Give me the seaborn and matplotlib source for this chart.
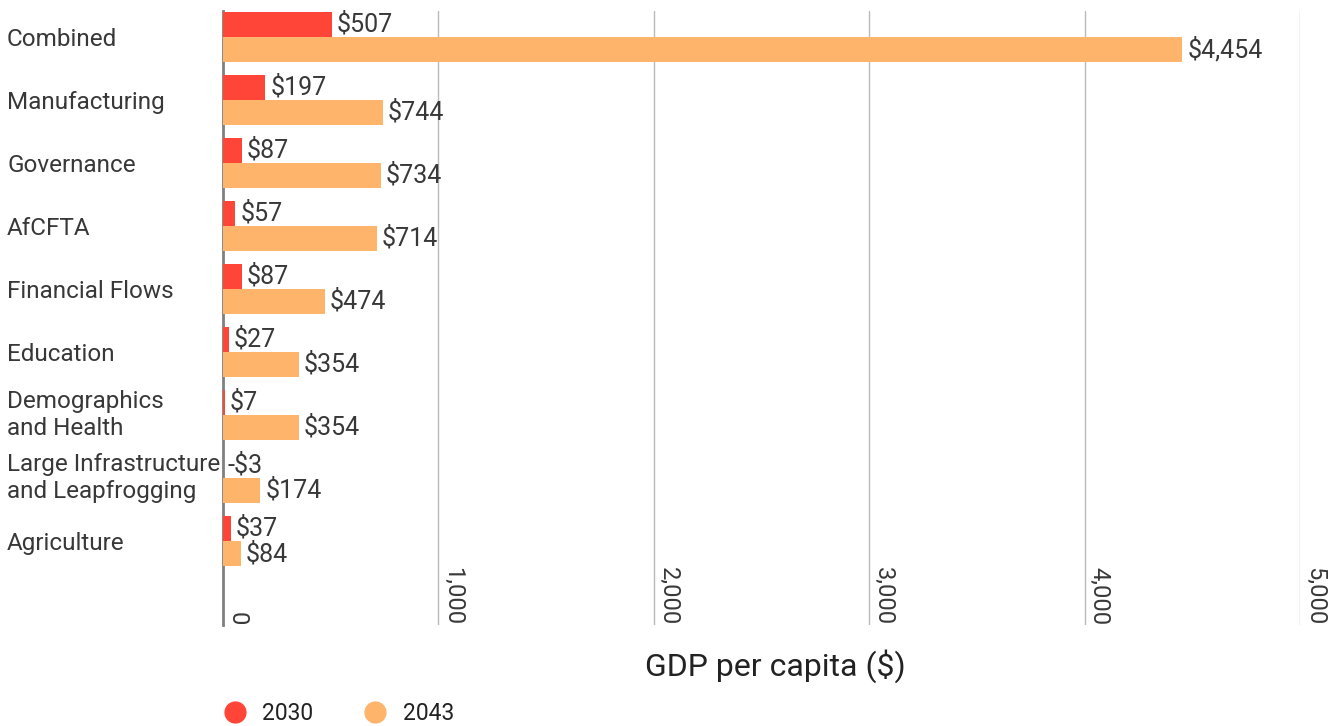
import matplotlib
matplotlib.use("Agg")
import matplotlib.pyplot as plt
from matplotlib.lines import Line2D
import seaborn as sns
import pandas as pd

categories = ["Combined", "Manufacturing", "Governance", "AfCFTA", "Financial Flows",
              "Education", "Demographics\nand Health",
              "Large Infrastructure\nand Leapfrogging", "Agriculture"]
values_2030 = [507, 197, 87, 57, 87, 27, 7, -3, 37]
values_2043 = [4454, 744, 734, 714, 474, 354, 354, 174, 84]
years = ["2030", "2043"]
x_ticks = [0, 1000, 2000, 3000, 4000, 5000]

colors = {"2030": "#FF4538", "2043": "#FFB46B"}
text_color = "#383838"

sns.set_theme(style="white")
plt.rcParams["font.family"] = ["Roboto", "DejaVu Sans"]

df = pd.DataFrame({
    "category": categories * 2,
    "value": values_2030 + values_2043,
    "year": [years[0]] * len(categories) + [years[1]] * len(categories),
})

fig = plt.figure(figsize=(13.38, 7.26), dpi=100)
ax = fig.add_axes([223 / 1338, 1 - 625 / 726, (1300 - 223) / 1338, (625 - 11) / 726])

sns.barplot(data=df, x="value", y="category", hue="year", orient="h",
            palette=colors, width=0.8, dodge=True, saturation=1,
            order=categories, hue_order=years, ax=ax, legend=False,
            linewidth=0, zorder=3)

ax.set_xlim(0, 5000)
ax.set_ylim(9.33, -0.41)

# vertical gridlines
for t in x_ticks[1:]:
    ax.axvline(t, color="#BBBBBB", lw=1, zorder=0)

for s in ["top", "right", "bottom"]:
    ax.spines[s].set_visible(False)
ax.spines["left"].set_color("#808080")
ax.spines["left"].set_linewidth(2)
ax.spines["left"].set_zorder(1)

ax.set_xticks([])
ax.set_xlabel("")
ax.set_ylabel("")
ax.set_yticks(range(len(categories)))
ax.set_yticklabels(categories, ha="left", fontsize=17.5,
                   color=text_color, linespacing=1.2)
for lab in ax.get_yticklabels():
    lab.set_verticalalignment("center" if "\n" in lab.get_text() else "center_baseline")
ax.tick_params(axis="y", length=0, pad=216 * 0.72)

# x tick labels drawn inside the plot, rotated
for t in x_ticks:
    ax.annotate(f"{t:,}", xy=(t, 9.33), xytext=(2, 0), textcoords="offset points",
                rotation=-90, ha="left", va="bottom", fontsize=17, color=text_color)

# value labels
for i in range(len(categories)):
    for v, dy in ((values_2030[i], -0.2), (values_2043[i], 0.2)):
        lbl = f"-${abs(v):,}" if v < 0 else f"${v:,}"
        ax.annotate(lbl, xy=(max(v, 0), i + dy), xytext=(3.5, 0), textcoords="offset points",
                    ha="left", va="center", fontsize=18, color=text_color)

fig.text(775 / 1338, 1 - 666 / 726, "GDP per capita ($)",
         ha="center", va="center", fontsize=23, color="#222222")

handles = [Line2D([0], [0], marker="o", linestyle="", markersize=15,
                  markerfacecolor=colors[y], markeredgecolor=colors[y]) for y in years]
fig.legend(handles, years, loc="center left", bbox_to_anchor=(212 / 1338, 1 - 714 / 726),
           ncol=2, frameon=False, fontsize=16.5, handletextpad=0.2, columnspacing=1.7,
           labelcolor="#222222", borderaxespad=0, borderpad=0)

fig.savefig("out.png", dpi=100)
